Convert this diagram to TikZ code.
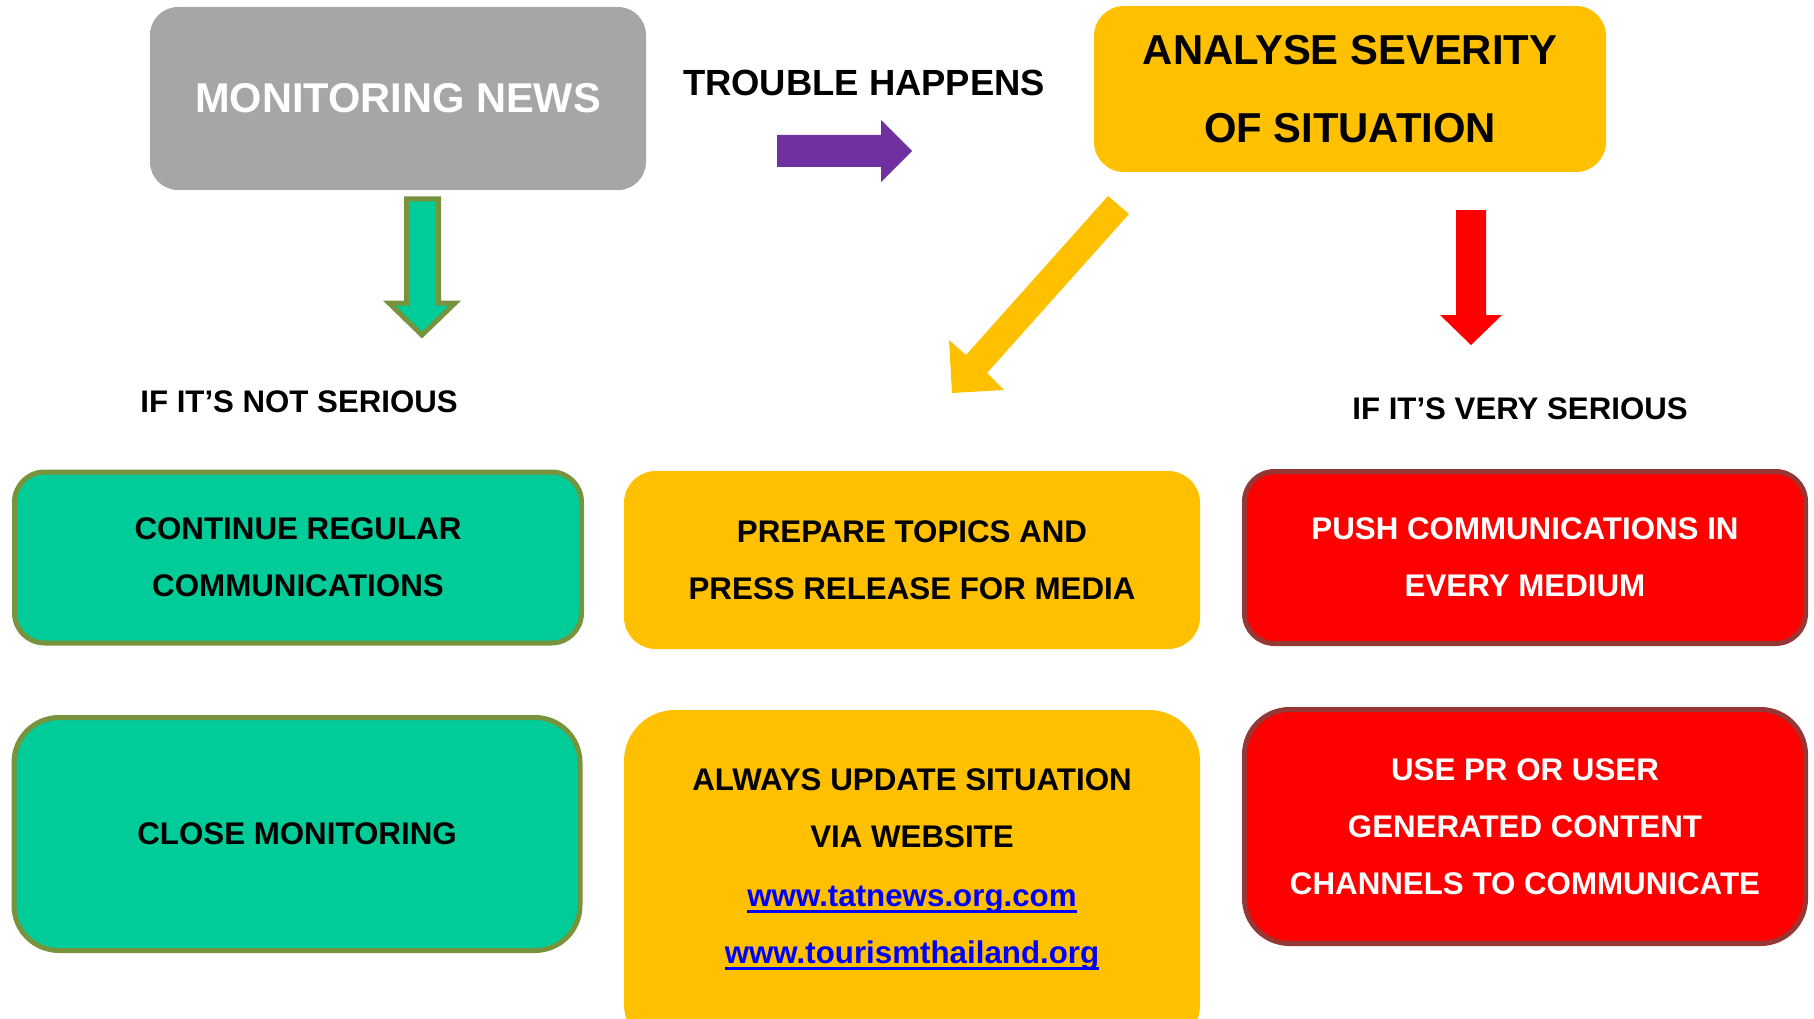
\documentclass[tikz,border=0pt]{standalone}
\usepackage{fontspec}
\setmainfont{Liberation Sans}
\definecolor{grayc}{HTML}{A6A6A6}
\definecolor{yelc}{HTML}{FFC000}
\definecolor{grnc}{HTML}{00CC99}
\definecolor{olvc}{HTML}{77933C}
\definecolor{redc}{HTML}{FF0000}
\definecolor{redb}{HTML}{953735}
\definecolor{purc}{HTML}{7030A0}
\definecolor{linkc}{HTML}{0000FF}
\tikzset{
  boxtext/.style={font=\bfseries\fontsize{31.3}{57}\selectfont, align=center, inner sep=0pt},
  greenbox/.style={boxtext, draw=olvc, line width=5pt, fill=grnc, text=black},
  yellowbox/.style={boxtext, fill=yelc, text=black},
  redbox/.style={boxtext, draw=redb, line width=5pt, fill=redc, text=white},
  label/.style={font=\bfseries\fontsize{31.2}{40}\selectfont, inner sep=0pt},
  linktext/.style={font=\bfseries\fontsize{31.3}{40}\selectfont, text=linkc, inner sep=0pt, anchor=base},
}
\begin{document}
\begin{tikzpicture}[x=1pt,y=-1pt]
\useasboundingbox (0,0) rectangle (1814,1019);
% top boxes
\node[boxtext, fill=grayc, text=white, font=\bfseries\fontsize{41.6}{50}\selectfont,
  rounded corners=28pt, minimum width=496pt, minimum height=183pt] (mon) at (398,98.5) {MONITORING NEWS};
\node[label, font=\bfseries\fontsize{36.4}{44}\selectfont] (trouble) at (864,83) {TROUBLE HAPPENS};
\node[boxtext, fill=yelc, font=\bfseries\fontsize{41.8}{77.5}\selectfont,
  rounded corners=30pt, minimum width=512pt, minimum height=166pt] (ana) at (1350,89) {ANALYSE SEVERITY\\OF SITUATION};
% arrows
\fill[purc] (777,135) -- (881,135) -- (881,120) -- (912,151) -- (881,182) -- (881,167) -- (777,167) -- cycle;
\filldraw[fill=grnc, draw=olvc, line width=5pt, line join=miter]
  (406.5,199) -- (438.5,199) -- (438.5,303) -- (455,303) -- (422,335) -- (389,303) -- (406.5,303) -- cycle;
\fill[yelc] (1108,196) -- (1129,214) -- (987,373) -- (1004,390) -- (952,393) -- (949,340) -- (966,355) -- cycle;
\fill[redc] (1456,210) -- (1486,210) -- (1486,315) -- (1502,315) -- (1471,345) -- (1440,315) -- (1456,315) -- cycle;
% labels
\node[label] (notser) at (299,402) {IF IT’S NOT SERIOUS};
\node[label] (verser) at (1520,409) {IF IT’S VERY SERIOUS};
% row 1
\node[greenbox, rounded corners=30pt, minimum width=567pt, minimum height=171pt] (cont) at (298,557.5) {CONTINUE REGULAR\\COMMUNICATIONS};
\node[yellowbox, rounded corners=32pt, minimum width=576pt, minimum height=178pt] (prep) at (912,560) {PREPARE TOPICS AND\\PRESS RELEASE FOR MEDIA};
\node[redbox, rounded corners=30pt, minimum width=561pt, minimum height=172pt] (push) at (1525,557.5) {PUSH COMMUNICATIONS IN\\EVERY MEDIUM};
% row 2
\node[greenbox, rounded corners=45pt, minimum width=566pt, minimum height=233pt] (close) at (297,834) {CLOSE MONITORING};
\begin{scope}
\clip (0,0) rectangle (1814,1019);
\node[yellowbox, rounded corners=51pt, minimum width=576pt, minimum height=345pt] (upd) at (912,882.5) {};
\end{scope}
\node[boxtext] (updtxt) at (912,808.5) {ALWAYS UPDATE SITUATION\\VIA WEBSITE};
\node[linktext] (link1) at (912,906) {www.tatnews.org.com};
\node[linktext] (link2) at (912,963) {www.tourismthailand.org};
\draw[linkc, line width=2.5pt] ([yshift=-5.5pt]link1.base west) -- ([yshift=-5.5pt]link1.base east);
\draw[linkc, line width=2.5pt] ([yshift=-5.5pt]link2.base west) -- ([yshift=-5.5pt]link2.base east);
\node[redbox, rounded corners=45pt, minimum width=561pt, minimum height=234pt] (usepr) at (1525,826.5) {USE PR OR USER\\GENERATED CONTENT\\CHANNELS TO COMMUNICATE};
\end{tikzpicture}
\end{document}
